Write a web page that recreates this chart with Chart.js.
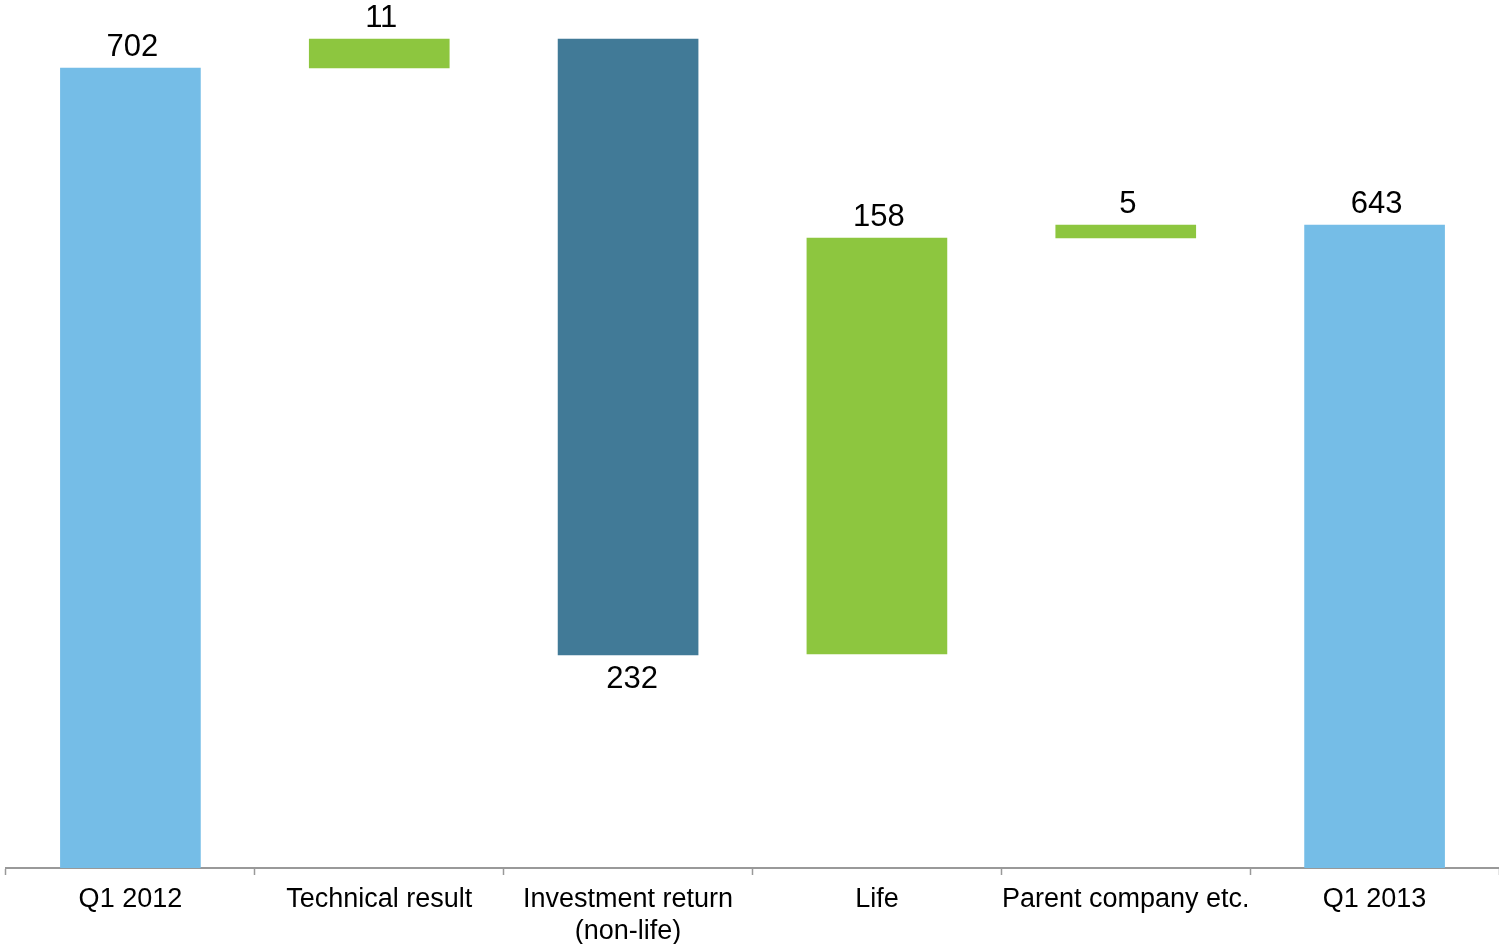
<!DOCTYPE html>
<html>
<head>
<meta charset="utf-8">
<script src="https://cdn.jsdelivr.net/npm/chart.js@4"></script>
<style>
  html, body { margin: 0; padding: 0; background: #fff; }
  #wrap { width: 1499px; height: 944px; }
</style>
</head>
<body>
<div id="wrap"><canvas id="myChart"></canvas></div>
<script>
// Categories along the x axis
const categories = [
  "Q1 2012",
  "Technical result",
  ["Investment return", "(non-life)"],
  "Life",
  "Parent company etc.",
  "Q1 2013",
];

// Bar extents as drawn in the picture (start, end) in chart units
const barStart = [0, 800, 213, 214, 630, 0];
const barEnd = [800, 829, 829, 630, 643, 643];

// Printed value labels
const valueLabels = ["702", "11", "232", "158", "5", "643"];
// true = label goes under the bar (a decrease)
const labelBelow = [false, false, true, false, false, false];

const colors = ["#75BDE7", "#8DC63F", "#417A97", "#8DC63F", "#8DC63F", "#75BDE7"];

// Draw the value labels next to each bar
const valueLabelPlugin = {
  id: "valueLabels",
  afterDatasetsDraw(chart) {
    const ctx = chart.ctx;
    const meta = chart.getDatasetMeta(0);
    ctx.save();
    ctx.font = "31px 'Liberation Sans', Arial, sans-serif";
    ctx.fillStyle = "#000";
    ctx.textAlign = "center";
    meta.data.forEach((bar, i) => {
      const top = Math.min(bar.y, bar.base);
      const bottom = Math.max(bar.y, bar.base);
      if (labelBelow[i]) {
        ctx.textBaseline = "top";
        ctx.fillText(valueLabels[i], bar.x + 4, bottom + 9);
      } else {
        ctx.textBaseline = "alphabetic";
        ctx.fillText(valueLabels[i], bar.x + 2, top - 12);
      }
    });
    ctx.restore();
  },
};

const ctx = document.getElementById("myChart").getContext("2d");

new Chart(ctx, {
  type: "bar",
  data: {
    labels: categories,
    datasets: [
      {
        data: barStart.map((s, i) => [s, barEnd[i]]),
        backgroundColor: colors,
        borderWidth: 0,
        barThickness: 140,
      },
    ],
  },
  options: {
    responsive: true,
    maintainAspectRatio: false,
    animation: false,
    layout: {
      padding: { left: 6, right: 0, top: 1, bottom: 0 },
    },
    plugins: {
      legend: { display: false },
      tooltip: { enabled: false },
    },
    scales: {
      x: {
        afterFit: (scale) => {
          scale.height = 76;
        },
        grid: {
          display: true,
          drawOnChartArea: false,
          drawTicks: true,
          tickLength: 7,
          tickColor: "#999",
          tickWidth: 1.5,
        },
        border: { display: true, color: "#999", width: 2 },
        ticks: {
          color: "#000",
          padding: 9,
          maxRotation: 0,
          autoSkip: false,
          font: { family: "'Liberation Sans', Arial, sans-serif", size: 27, lineHeight: 1.18 },
        },
      },
      y: {
        display: false,
        min: 0,
        max: 867,
      },
    },
  },
  plugins: [valueLabelPlugin],
});
</script>
</body>
</html>
